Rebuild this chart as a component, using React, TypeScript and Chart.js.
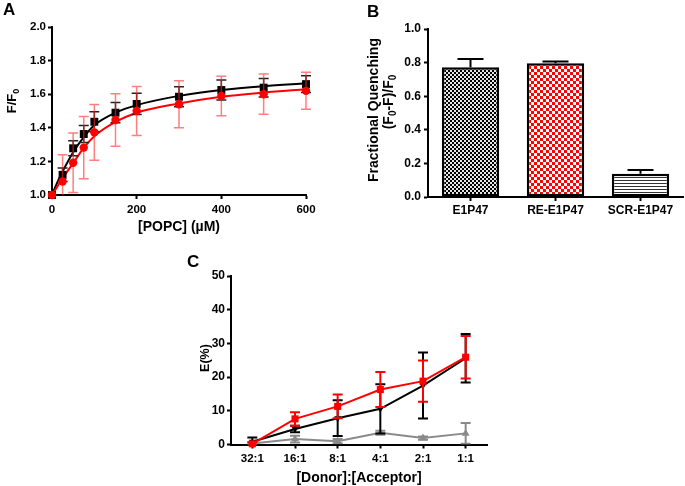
import React, { useEffect, useRef } from 'react';
import { Chart, registerables } from 'chart.js';
Chart.register(...registerables);

const FONT = '"Liberation Sans", Arial, Helvetica, sans-serif';

// ---------- Panel A data ----------
const popcConc = [0, 25, 50, 75, 100, 150, 200, 300, 400, 500, 600];
const blackFF0 = [1.0, 1.12, 1.278, 1.363, 1.436, 1.49, 1.542, 1.585, 1.625, 1.639, 1.66];
const blackFF0Err = [0, 0.04, 0.045, 0.05, 0.06, 0.06, 0.063, 0.06, 0.06, 0.055, 0.05];
const redFF0 = [1.0, 1.08, 1.192, 1.282, 1.373, 1.446, 1.5, 1.54, 1.589, 1.6, 1.62];
const redFF0Err = [0, 0.16, 0.177, 0.185, 0.166, 0.156, 0.146, 0.14, 0.118, 0.12, 0.11];
const fitConc = [0, 12.5, 25, 50, 75, 100, 150, 200, 300, 400, 500, 600];
const blackFit = [1.0, 1.075, 1.14, 1.255, 1.345, 1.415, 1.49, 1.535, 1.59, 1.625, 1.648, 1.665];
const redFit = [1.0, 1.05, 1.1, 1.19, 1.28, 1.35, 1.435, 1.49, 1.545, 1.585, 1.61, 1.63];
const aXTicks = [0, 200, 400, 600];
const aYTicks = [1.0, 1.2, 1.4, 1.6, 1.8, 2.0];
const aYTickLabels = ['1.0', '1.2', '1.4', '1.6', '1.8', '2.0'];

// ---------- Panel B data ----------
const bCategories = ['E1P47', 'RE-E1P47', 'SCR-E1P47'];
const bValues = [0.772, 0.796, 0.139];
const bErrors = [0.05, 0.01, 0.022];
const bYTicks = [0, 0.2, 0.4, 0.6, 0.8, 1.0];
const bYTickLabels = ['0.0', '0.2', '0.4', '0.6', '0.8', '1.0'];

// ---------- Panel C data ----------
const cRatios = ['32:1', '16:1', '8:1', '4:1', '2:1', '1:1'];
const cRed = [0.2, 7.6, 11.3, 16.3, 18.8, 25.9];
const cRedErr = [0.5, 2.0, 3.5, 5.2, 6.1, 6.3];
const cBlack = [0.8, 4.6, 7.8, 10.6, 17.5, 25.6];
const cBlackErr = [1.3, 1.0, 5.3, 7.3, 9.8, 7.2];
const cGray = [0.3, 1.6, 1.0, 3.5, 1.9, 3.3];
const cGrayErr = [0.3, 1.0, 0.6, 0.6, 0.5, 3.1];
const cYTicks = [0, 10, 20, 30, 40, 50];

type Part = [string, boolean];

function drawRich(ctx: CanvasRenderingContext2D, parts: Part[], x: number, y: number, size: number, rotate: boolean) {
  ctx.save();
  ctx.translate(x, y);
  if (rotate) ctx.rotate(-Math.PI / 2);
  ctx.fillStyle = '#000';
  ctx.textBaseline = 'middle';
  ctx.textAlign = 'left';
  const subSize = Math.round(size * 0.68);
  const fontFor = (sub: boolean) => `bold ${sub ? subSize : size}px ${FONT}`;
  let total = 0;
  for (const [t, sub] of parts) {
    ctx.font = fontFor(sub);
    total += ctx.measureText(t).width;
  }
  let cx = -total / 2;
  for (const [t, sub] of parts) {
    ctx.font = fontFor(sub);
    ctx.fillText(t, cx, sub ? size * 0.32 : 0);
    cx += ctx.measureText(t).width;
  }
  ctx.restore();
}

type TitleItem = { parts: Part[]; x: number; y: number; size: number; rotate: boolean };

function titlePlugin(items: TitleItem[]) {
  return {
    id: 'richTitles',
    afterDraw(chart: any) {
      const ctx = chart.ctx as CanvasRenderingContext2D;
      items.forEach((it) => drawRich(ctx, it.parts, it.x, it.y, it.size, it.rotate));
    },
  };
}

function errorPlugin(after: boolean) {
  const draw = (chart: any, args: any) => {
    const ds: any = chart.data.datasets[args.index];
    if (!ds.errors) return;
    const meta = args.meta;
    const ys = chart.scales[meta.yAxisID];
    const ctx = chart.ctx as CanvasRenderingContext2D;
    const area = chart.chartArea;
    ctx.save();
    ctx.beginPath();
    ctx.rect(area.left - 20, area.top - 20, area.right - area.left + 40, area.bottom - area.top + 20);
    ctx.clip();
    ctx.strokeStyle = ds.errorColor || '#000';
    ctx.lineWidth = ds.errorWidth || 1.5;
    const cap = ds.cap || 4;
    ctx.beginPath();
    meta.data.forEach((el: any, i: number) => {
      const e = ds.errors[i];
      if (!e) return;
      const d = ds.data[i];
      const v = typeof d === 'number' ? d : d.y;
      const x = el.x;
      const yTop = ys.getPixelForValue(v + e);
      const yVal = ys.getPixelForValue(v);
      const yBot = ds.upOnly ? yVal : ys.getPixelForValue(v - e);
      ctx.moveTo(x, yTop);
      ctx.lineTo(x, yBot);
      ctx.moveTo(x - cap, yTop);
      ctx.lineTo(x + cap, yTop);
      if (!ds.upOnly) {
        ctx.moveTo(x - cap, yBot);
        ctx.lineTo(x + cap, yBot);
      }
    });
    ctx.stroke();
    ctx.restore();
  };
  return after ? { id: 'errAfter', afterDatasetDraw: draw } : { id: 'errBefore', beforeDatasetDraw: draw };
}

const gridCfg = {
  display: true,
  drawOnChartArea: false,
  drawTicks: true,
  tickLength: 4,
  tickWidth: 2,
  tickColor: '#000',
  color: '#000',
  offset: false,
};
const borderCfg = { display: true, color: '#000', width: 2 };

function tickFont(size: number) {
  return { family: FONT, size, weight: 'bold' as const };
}

function makePattern(ctx: CanvasRenderingContext2D, kind: string) {
  const c = document.createElement('canvas');
  const g = c.getContext('2d')!;
  if (kind === 'gray') {
    c.width = 4; c.height = 4;
    g.fillStyle = '#e6e6e6'; g.fillRect(0, 0, 4, 4);
    g.fillStyle = '#000'; g.fillRect(0, 0, 2, 2); g.fillRect(2, 2, 2, 2);
  } else if (kind === 'red') {
    c.width = 6; c.height = 6;
    g.fillStyle = '#fff'; g.fillRect(0, 0, 6, 6);
    g.fillStyle = '#ff0000'; g.fillRect(0, 0, 3, 3); g.fillRect(3, 3, 3, 3);
  } else {
    c.width = 4; c.height = 3;
    g.fillStyle = '#fff'; g.fillRect(0, 0, 4, 3);
    g.fillStyle = '#333'; g.fillRect(0, 0, 4, 1);
  }
  return ctx.createPattern(c, 'repeat');
}

export default function App() {
  const refA = useRef<HTMLCanvasElement>(null);
  const refB = useRef<HTMLCanvasElement>(null);
  const refC = useRef<HTMLCanvasElement>(null);

  useEffect(() => {
    const charts: Chart[] = [];

    // ----- Panel A -----
    const chartA = new Chart(refA.current!, {
      type: 'scatter',
      data: {
        datasets: [
          {
            data: popcConc.map((x, i) => ({ x, y: redFF0[i] })),
            pointStyle: 'circle', pointRadius: 4.2, backgroundColor: '#ff0000', borderColor: '#ff0000', borderWidth: 0,
            errors: redFF0Err, errorColor: 'rgba(255,40,40,0.6)', errorWidth: 1.5, cap: 5, clip: false,
          } as any,
          {
            data: popcConc.map((x, i) => ({ x, y: blackFF0[i] })),
            pointStyle: 'rect', pointRadius: 5.6, backgroundColor: '#000', borderColor: '#000', borderWidth: 0,
            errors: blackFF0Err, errorColor: '#222', errorWidth: 1.5, cap: 5, clip: false,
          } as any,
          {
            data: fitConc.map((x, i) => ({ x, y: redFit[i] })),
            showLine: true, borderColor: '#ff0000', borderWidth: 2, pointRadius: 0,
            cubicInterpolationMode: 'monotone', clip: false,
          } as any,
          {
            data: fitConc.map((x, i) => ({ x, y: blackFit[i] })),
            showLine: true, borderColor: '#000', borderWidth: 2, pointRadius: 0,
            cubicInterpolationMode: 'monotone', clip: false,
          } as any,
        ],
      },
      options: {
        animation: false, responsive: false, devicePixelRatio: 1,
        layout: { padding: { top: 27, right: 24, left: 0, bottom: 0 } },
        plugins: { legend: { display: false }, tooltip: { enabled: false } },
        scales: {
          x: {
            type: 'linear', min: 0, max: 600,
            afterBuildTicks: (s: any) => { s.ticks = aXTicks.map((v) => ({ value: v })); },
            afterFit: (s: any) => { s.height = 45; },
            ticks: { font: tickFont(11.5), color: '#000', padding: 4, maxRotation: 0, callback: (v: any) => String(v) },
            grid: gridCfg, border: borderCfg,
          },
          y: {
            type: 'linear', min: 1.0, max: 2.0,
            afterBuildTicks: (s: any) => { s.ticks = aYTicks.map((v) => ({ value: v })); },
            afterFit: (s: any) => { s.width = 52; },
            ticks: { font: tickFont(11.5), color: '#000', padding: 2, callback: (_v: any, i: number) => aYTickLabels[i] },
            grid: gridCfg, border: borderCfg,
          },
        },
      } as any,
      plugins: [
        errorPlugin(false),
        titlePlugin([
          { parts: [['[POPC] (\u00b5M)', false]], x: 179, y: 227, size: 14, rotate: false },
          { parts: [['F/F', false], ['0', true]], x: 12, y: 101, size: 13, rotate: true },
        ]),
      ],
    });
    charts.push(chartA);

    // ----- Panel B -----
    const ctxB = refB.current!.getContext('2d')!;
    const chartB = new Chart(refB.current!, {
      type: 'bar',
      data: {
        labels: bCategories,
        datasets: [
          {
            data: bValues,
            backgroundColor: [makePattern(ctxB, 'gray'), makePattern(ctxB, 'red'), makePattern(ctxB, 'lines')],
            borderColor: '#000', borderWidth: 2.5, borderSkipped: false,
            barPercentage: 0.675, categoryPercentage: 1,
            errors: bErrors, upOnly: true, errorColor: '#000', errorWidth: 2, cap: 13,
          } as any,
        ],
      },
      options: {
        animation: false, responsive: false, devicePixelRatio: 1,
        layout: { padding: { top: 29, right: 2, left: 0, bottom: 0 } },
        plugins: { legend: { display: false }, tooltip: { enabled: false } },
        scales: {
          x: {
            type: 'category', offset: true,
            afterFit: (s: any) => { s.height = 43; },
            ticks: { font: tickFont(12), color: '#000', padding: 2, maxRotation: 0 },
            grid: gridCfg, border: borderCfg,
          },
          y: {
            type: 'linear', min: 0, max: 1.0,
            afterBuildTicks: (s: any) => { s.ticks = bYTicks.map((v) => ({ value: v })); },
            afterFit: (s: any) => { s.width = 98; },
            ticks: { font: tickFont(12), color: '#000', padding: 3, callback: (_v: any, i: number) => bYTickLabels[i] },
            grid: gridCfg, border: borderCfg,
          },
        },
      } as any,
      plugins: [
        errorPlugin(true),
        titlePlugin([
          { parts: [['Fractional Quenching', false]], x: 44, y: 110, size: 14, rotate: true },
          { parts: [['(F', false], ['0', true], ['-F)/F', false], ['0', true]], x: 59, y: 102, size: 14, rotate: true },
        ]),
      ],
    });
    charts.push(chartB);

    // ----- Panel C -----
    const chartC = new Chart(refC.current!, {
      type: 'line',
      data: {
        labels: cRatios,
        datasets: [
          {
            data: cRed, borderColor: '#ff0000', backgroundColor: '#ff0000', borderWidth: 2,
            pointStyle: 'rect', pointRadius: 5, pointBorderWidth: 0, tension: 0, clip: false,
            errors: cRedErr, errorColor: '#ff0000', errorWidth: 2, cap: 5,
          } as any,
          {
            data: cBlack, borderColor: '#000', backgroundColor: '#000', borderWidth: 2,
            pointStyle: 'triangle', rotation: 180, pointRadius: 4, pointBorderWidth: 0, tension: 0, clip: false,
            errors: cBlackErr, errorColor: '#000', errorWidth: 2, cap: 5,
          } as any,
          {
            data: cGray, borderColor: '#8a8a8a', backgroundColor: '#8a8a8a', borderWidth: 2,
            pointStyle: 'triangle', pointRadius: 4.5, pointBorderWidth: 0, tension: 0, clip: false,
            errors: cGrayErr, errorColor: '#8a8a8a', errorWidth: 2, cap: 5,
          } as any,
        ],
      },
      options: {
        animation: false, responsive: false, devicePixelRatio: 1,
        layout: { padding: { top: 36, right: 13, left: 0, bottom: 0 } },
        plugins: { legend: { display: false }, tooltip: { enabled: false } },
        scales: {
          x: {
            type: 'category', offset: true,
            afterFit: (s: any) => { s.height = 41.5; },
            ticks: { font: tickFont(11.5), color: '#000', padding: 3, maxRotation: 0 },
            grid: gridCfg, border: borderCfg,
          },
          y: {
            type: 'linear', min: 0, max: 50,
            afterBuildTicks: (s: any) => { s.ticks = cYTicks.map((v) => ({ value: v })); },
            afterFit: (s: any) => { s.width = 81; },
            ticks: { font: tickFont(12), color: '#000', padding: 2, callback: (v: any) => String(v) },
            grid: gridCfg, border: borderCfg,
          },
        },
      } as any,
      plugins: [
        errorPlugin(false),
        titlePlugin([
          { parts: [['[Donor]:[Acceptor]', false]], x: 209, y: 238, size: 14, rotate: false },
          { parts: [['E(%)', false]], x: 56, y: 118, size: 12.5, rotate: true },
        ]),
      ],
    });
    charts.push(chartC);

    return () => charts.forEach((c) => c.destroy());
  }, []);

  const letter = (t: string, left: number, top: number) => (
    <div
      style={{
        position: 'absolute', left, top, fontFamily: FONT, fontWeight: 'bold', fontSize: 17,
        lineHeight: '17px', color: '#000',
      }}
    >
      {t}
    </div>
  );

  return (
    <div style={{ position: 'fixed', left: 0, top: 0, width: 685, height: 486, background: '#fff', overflow: 'hidden' }}>
      <canvas ref={refA} width={330} height={240} style={{ position: 'absolute', left: 0, top: 0, width: 330, height: 240 }} />
      <canvas ref={refB} width={355} height={240} style={{ position: 'absolute', left: 330, top: 0, width: 355, height: 240 }} />
      <canvas ref={refC} width={350} height={246} style={{ position: 'absolute', left: 150, top: 240, width: 350, height: 246 }} />
      {letter('A', 3, 1)}
      {letter('B', 367, 3)}
      {letter('C', 187, 253)}
    </div>
  );
}
